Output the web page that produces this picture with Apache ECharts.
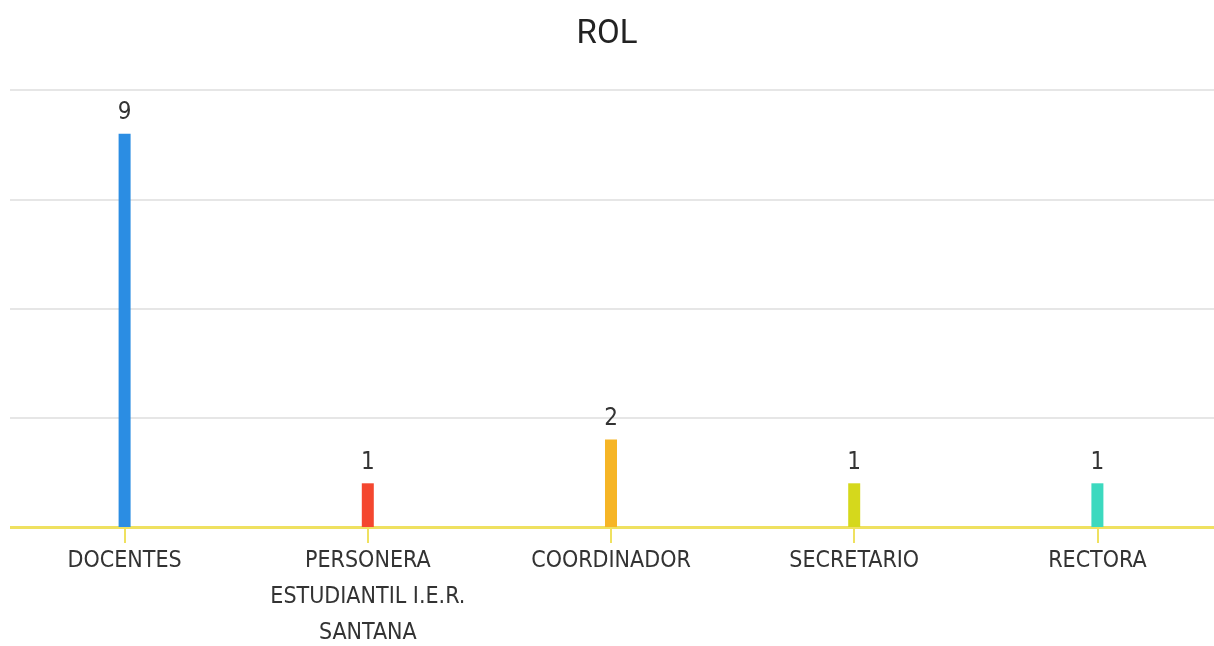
<!DOCTYPE html>
<html>
<head>
<meta charset="utf-8">
<style>html,body{margin:0;padding:0;background:#fff;}#c{width:1214px;height:646px;}</style>
<script src="https://cdn.jsdelivr.net/npm/echarts@6/dist/echarts.min.js"></script>
</head>
<body>
<div id="c"></div>
<script>
const title = 'ROL';
const categories = ['DOCENTES', 'PERSONERA\nESTUDIANTIL I.E.R.\nSANTANA', 'COORDINADOR', 'SECRETARIO', 'RECTORA'];
const values = [9, 1, 2, 1, 1];
const barColors = ['#2b8de3', '#f4472f', '#f6b526', '#d5d81c', '#3cd9bf'];
const yTicks = [0, 2.5, 5, 7.5, 10];

const FONT = '"Liberation Sans Narrow", "DejaVu Sans Condensed", Roboto, sans-serif';
const chart = echarts.init(document.getElementById('c'));
chart.setOption({
  animation: false,
  title: {
    text: title, left: 'center', top: 13,
    textStyle: { fontFamily: 'Roboto, sans-serif', fontSize: 33, fontWeight: 'normal', color: '#222' }
  },
  grid: { left: 3, right: -5, top: 90, bottom: 119, containLabel: false, outerBoundsMode: 'none' },
  xAxis: {
    type: 'category', data: categories,
    axisLine: { show: true, lineStyle: { color: '#efe160', width: 3 } },
    axisTick: { show: true, alignWithLabel: true, length: 16, lineStyle: { color: '#efe160', width: 2 } },
    axisLabel: { fontFamily: FONT, fontSize: 23, color: '#333', lineHeight: 36, margin: 16, interval: 0 }
  },
  yAxis: {
    type: 'value', min: yTicks[0], max: yTicks[yTicks.length - 1], interval: yTicks[1] - yTicks[0],
    axisLabel: { show: false }, axisLine: { show: false }, axisTick: { show: false },
    splitLine: { lineStyle: { color: '#e6e6e6', width: 2 } }
  },
  series: [{
    type: 'bar', barWidth: 12,
    data: values.map((v, i) => ({ value: v, itemStyle: { color: barColors[i] } })),
    label: { show: true, position: 'top', distance: 9, fontFamily: FONT, fontSize: 24, color: '#333' }
  }],
  graphic: [{
    type: 'rect', shape: { x: 0, y: 80, width: 10, height: 460 },
    style: { fill: '#fff' }, z: 100
  }]
});
</script>
</body>
</html>
